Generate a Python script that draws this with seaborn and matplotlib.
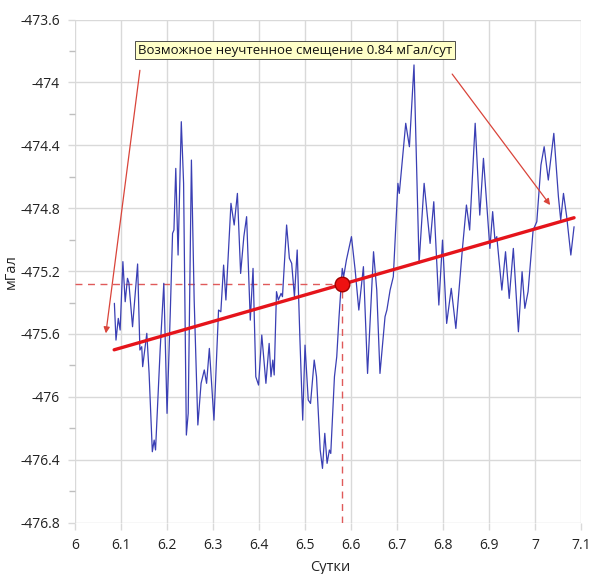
import matplotlib
matplotlib.use("Agg")
import matplotlib.pyplot as plt
import seaborn as sns
import pandas as pd

# Gravimeter readings, days vs mGal
days = [
    6.0855, 6.089, 6.094, 6.098, 6.104, 6.109, 6.114, 6.117, 6.125, 6.136,
    6.141, 6.145, 6.147, 6.156, 6.161, 6.168, 6.172, 6.175, 6.185, 6.193,
    6.200, 6.207, 6.212, 6.215, 6.219, 6.224, 6.231, 6.236, 6.242, 6.246,
    6.253, 6.259, 6.267, 6.274, 6.281, 6.286, 6.292, 6.302, 6.312, 6.317,
    6.323, 6.328, 6.339, 6.346, 6.353, 6.360, 6.367, 6.373, 6.381, 6.387,
    6.393, 6.399, 6.406, 6.415, 6.422, 6.426, 6.430, 6.433, 6.438, 6.442,
    6.448, 6.451, 6.460, 6.466, 6.471, 6.477, 6.483, 6.489, 6.495, 6.500,
    6.507, 6.512, 6.520, 6.525, 6.533, 6.538, 6.543, 6.548, 6.553, 6.556,
    6.564, 6.569, 6.574, 6.581, 6.584, 6.590, 6.601, 6.609, 6.617, 6.627,
    6.636, 6.649, 6.656, 6.663, 6.674, 6.678, 6.685, 6.692, 6.702, 6.705,
    6.719, 6.727, 6.737, 6.748, 6.759, 6.772, 6.780, 6.791, 6.799, 6.808,
    6.818, 6.828, 6.842, 6.851, 6.858, 6.870, 6.880, 6.888, 6.902, 6.908,
    6.913, 6.917, 6.928, 6.936, 6.944, 6.953, 6.964, 6.972, 6.978, 6.985,
    6.996, 7.004, 7.013, 7.020, 7.029, 7.041, 7.051, 7.056, 7.062, 7.069,
    7.078, 7.085,
]
mgal = [
    -475.405, -475.639, -475.501, -475.575, -475.140, -475.395, -475.246, -475.274, -475.554, -475.155,
    -475.702, -475.681, -475.808, -475.596, -475.851, -476.349, -476.275, -476.338, -475.702, -475.278,
    -476.105, -475.469, -474.960, -474.939, -474.547, -475.098, -474.250, -474.642, -476.243, -476.105,
    -474.494, -475.384, -476.179, -475.914, -475.829, -475.914, -475.692, -476.148, -475.448, -475.459,
    -475.162, -475.384, -474.769, -474.907, -474.706, -475.215, -474.981, -474.854, -475.512, -475.183,
    -475.872, -475.925, -475.607, -475.914, -475.660, -475.872, -475.766, -475.861, -475.331, -475.384,
    -475.342, -475.363, -474.907, -475.119, -475.151, -475.363, -475.066, -475.639, -476.148, -475.671,
    -476.020, -476.042, -475.766, -475.872, -476.338, -476.455, -476.232, -476.423, -476.338, -476.360,
    -475.872, -475.745, -475.490, -475.183, -475.236, -475.130, -474.981, -475.193, -475.448, -475.172,
    -475.851, -475.077, -475.321, -475.851, -475.490, -475.448, -475.321, -475.236, -474.642, -474.706,
    -474.260, -474.409, -473.889, -475.151, -474.642, -475.024, -474.759, -475.416, -475.003, -475.533,
    -475.310, -475.565, -475.066, -474.780, -474.939, -474.260, -474.844, -474.483, -475.056, -474.822,
    -475.003, -474.981, -475.321, -475.077, -475.374, -475.056, -475.586, -475.204, -475.437, -475.331,
    -474.939, -474.886, -474.525, -474.409, -474.621, -474.324, -474.727, -474.875, -474.706, -474.854,
    -475.098, -474.918,
]

# Linear drift: slope (mGal/day) through the reference point
drift_slope = 0.84
ref_day = 6.58
ref_mgal = -475.285
trend_days = [6.085, 7.085]
trend_mgal = [ref_mgal + drift_slope * (d - ref_day) for d in trend_days]

x_ticks = [6.0, 6.1, 6.2, 6.3, 6.4, 6.5, 6.6, 6.7, 6.8, 6.9, 7.0, 7.1]
y_ticks = [-476.8, -476.4, -476.0, -475.6, -475.2, -474.8, -474.4, -474.0, -473.6]
y_minor = [-476.6, -476.2, -475.8, -475.4, -475.0, -474.6, -474.2, -473.8]

annotation = f"Возможное неучтенное смещение {drift_slope} мГал/сут"

sns.set_theme(style="white")
plt.rcParams["font.family"] = ["Open Sans", "DejaVu Sans"]
plt.rcParams["axes.unicode_minus"] = False

fig = plt.figure(figsize=(5.91, 5.74), dpi=100)
ax = fig.add_axes([0.127, 0.0895, 0.856, 0.8765])

signal = pd.DataFrame({"day": days, "mgal": mgal})
trend = pd.DataFrame({"day": trend_days, "mgal": trend_mgal})

sns.lineplot(data=signal, x="day", y="mgal", ax=ax, color="#3a3fb4",
             linewidth=0.9, estimator=None, sort=False, zorder=3)

# Dashed guides to the reference point
ax.plot([6.0, ref_day], [ref_mgal, ref_mgal], color="#e05a5a",
        linestyle=(0, (5, 4)), linewidth=1.0, zorder=2)
ax.plot([ref_day, ref_day], [-476.8, ref_mgal], color="#e05a5a",
        linestyle=(0, (5, 4)), linewidth=1.0, zorder=2)

sns.lineplot(data=trend, x="day", y="mgal", ax=ax, color="#e5141b",
             linewidth=2.4, estimator=None, zorder=4)
sns.scatterplot(x=[ref_day], y=[ref_mgal], ax=ax, s=110, color="#ee1111",
                edgecolor="#a00000", linewidth=1.0, zorder=5)

ax.set_xlim(6.0, 7.1)
ax.set_ylim(-476.8, -473.6)
ax.set_xticks(x_ticks)
ax.set_xticklabels([f"{v:g}" for v in x_ticks])
ax.set_yticks(y_ticks)
ax.set_yticklabels([f"{v:g}" for v in y_ticks])
ax.set_yticks(y_minor, minor=True)

ax.grid(True, which="major", color="#d9d9d9", linewidth=1.0, zorder=0)
ax.set_axisbelow(True)
for side in ["top", "right", "bottom", "left"]:
    ax.spines[side].set_visible(False)
ax.tick_params(axis="both", which="major", length=5, color="#d9d9d9",
               width=1.0, labelsize=10, labelcolor="#222222", pad=6)
ax.tick_params(axis="y", which="minor", length=4, color="#bfbfbf", width=1.0, left=True)
ax.tick_params(axis="x", bottom=True)
ax.tick_params(axis="y", left=True)

ax.set_xlabel("Сутки", fontsize=10.5, color="#222222")
ax.set_ylabel("мГал", fontsize=10.5, color="#222222")
ax.xaxis.set_label_coords(0.504, -0.075)
ax.yaxis.set_label_coords(-0.112, 0.5)

ax.text(6.478, -473.794, annotation, fontsize=9.5, color="#111111",
        ha="center", va="center", zorder=6,
        bbox=dict(boxstyle="square,pad=0.2", facecolor="#ffffc8",
                  edgecolor="#333333", linewidth=0.6))

arrow_style = dict(arrowstyle="-|>", color="#d9443a", linewidth=0.9,
                   mutation_scale=9, shrinkA=0, shrinkB=0)
ax.annotate("", xy=(6.067, -475.596), xytext=(6.141, -473.923),
            arrowprops=arrow_style, zorder=6)
ax.annotate("", xy=(7.033, -474.780), xytext=(6.820, -473.947),
            arrowprops=arrow_style, zorder=6)

fig.savefig("out.png", dpi=100, facecolor="white")
